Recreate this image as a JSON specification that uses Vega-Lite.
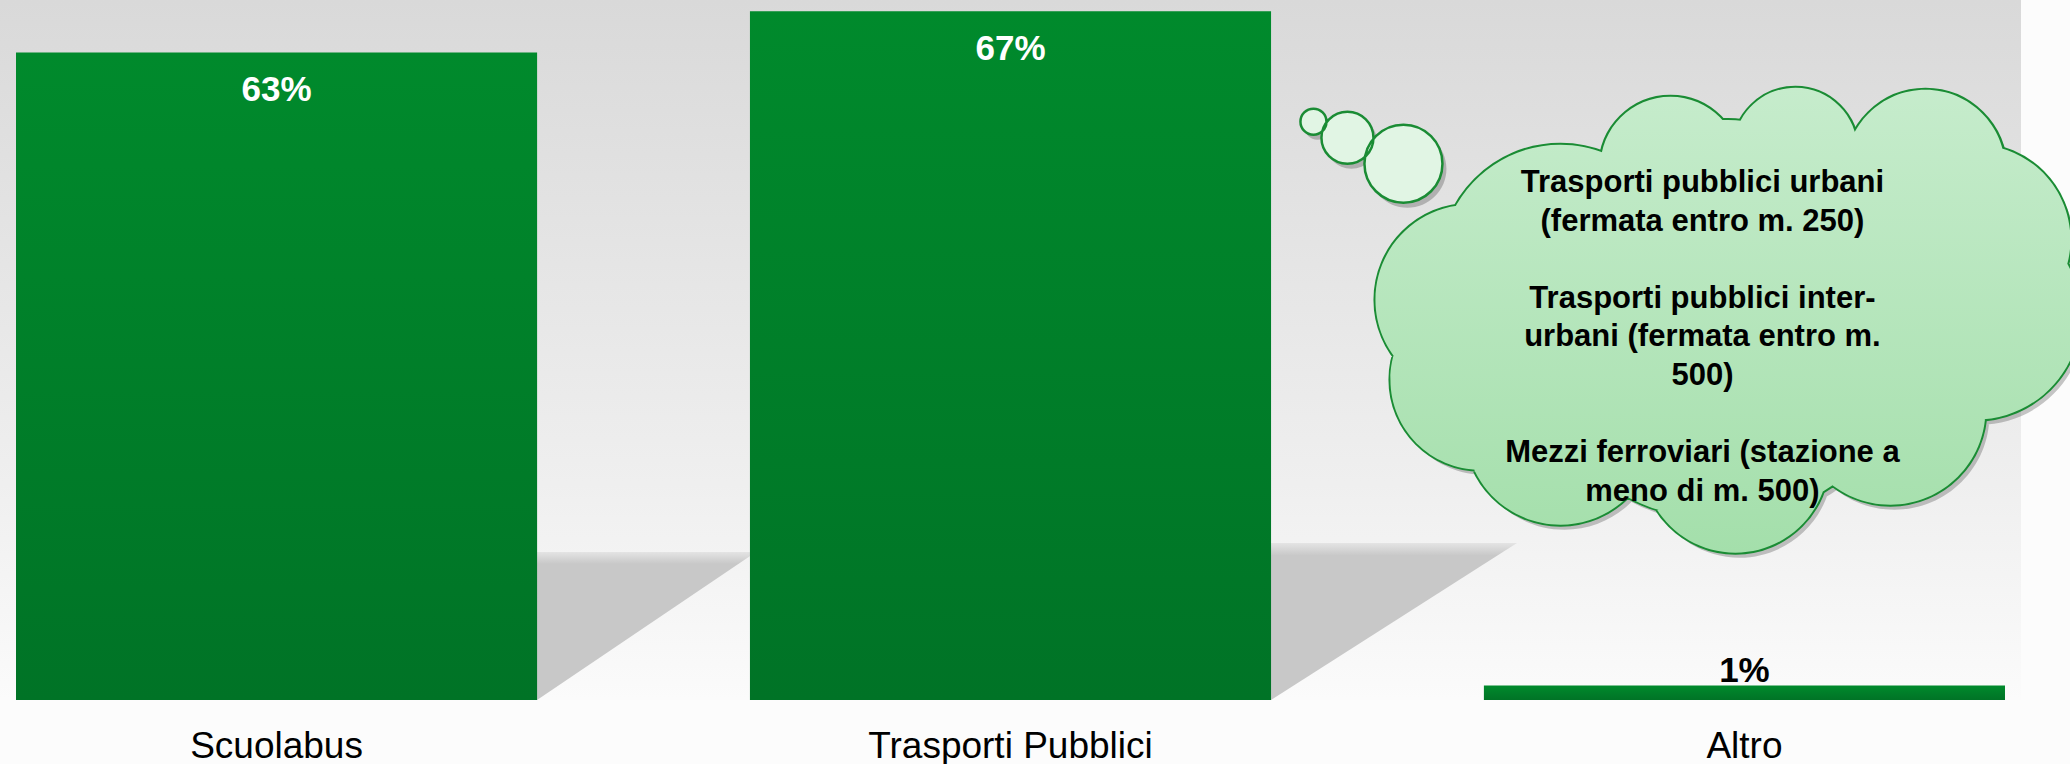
{
  "$schema": "https://vega.github.io/schema/vega-lite/v6.json",
  "width": 2021,
  "height": 700,
  "autosize": "none",
  "padding": {"left": 0, "top": 0, "right": 49, "bottom": 64},
  "background": "#fcfcfc",
  "config": {
    "font": "Liberation Sans",
    "axisX": {"title": null, "domain": false, "ticks": false, "tickSize": 0, "grid": false,
        "labelFontSize": 37, "labelFont": "Liberation Sans", "labelColor": "#000000",
        "labelAngle": 0, "labelBaseline": "alphabetic", "labelPadding": 57, "labelLimit": 0},
    "text": {"align": "center", "baseline": "alphabetic", "fontSize": 31, "fontWeight": "bold", "lineHeight": 38.5, "color": "#000000"},
    "view": {
      "stroke": null,
      "fill": {"gradient": "linear", "x1": 0, "y1": 0, "x2": 0, "y2": 1,
        "stops": [{"offset": 0, "color": "#d9d9d9"}, {"offset": 0.69, "color": "#efefef"}, {"offset": 1, "color": "#fbfbfb"}]}
    }
  },
  "data": {"values": [
    {"categoria": "Scuolabus", "quota": 0.63},
    {"categoria": "Trasporti Pubblici", "quota": 0.67},
    {"categoria": "Altro", "quota": 0.014}
  ]},
  "layer": [
    {
      "data": {"values": [{"nota": "ombra"}]},
      "mark": {"type": "point", "shape": "M0,0L0,-0.592L0.876,-0.592Z", "size": 250000, "filled": true, "opacity": 1, "strokeWidth": 0, "xOffset": 260.5,
        "fill": {"gradient": "linear", "x1": 0, "y1": 0, "x2": 0, "y2": 1,
          "stops": [{"offset": 0, "color": "#e4e4e4"}, {"offset": 0.08, "color": "#c8c8c8"}, {"offset": 1, "color": "#c8c8c8"}]}},
      "encoding": {"x": {"datum": "Scuolabus", "type": "nominal", "title": null}, "y": {"datum": 0, "type": "quantitative", "axis": null}}
    },
    {
      "data": {"values": [{"nota": "ombra"}]},
      "mark": {"type": "point", "shape": "M0,0L0,-0.628L0.984,-0.628Z", "size": 250000, "filled": true, "opacity": 1, "strokeWidth": 0, "xOffset": 260.5,
        "fill": {"gradient": "linear", "x1": 0, "y1": 0, "x2": 0, "y2": 1,
          "stops": [{"offset": 0, "color": "#e4e4e4"}, {"offset": 0.08, "color": "#c8c8c8"}, {"offset": 1, "color": "#c8c8c8"}]}},
      "encoding": {"x": {"datum": "Trasporti Pubblici", "type": "nominal", "title": null}, "y": {"datum": 0, "type": "quantitative", "axis": null}}
    },
    {
      "mark": {"type": "bar",
        "color": {"gradient": "linear", "x1": 0, "y1": 0, "x2": 0, "y2": 1,
          "stops": [{"offset": 0, "color": "#008a2c"}, {"offset": 1, "color": "#007326"}]}},
      "encoding": {
        "x": {"field": "categoria", "type": "nominal", "sort": null, "title": null,
          "scale": {"paddingInner": 0.29, "paddingOuter": 0.0218}},
        "y": {"field": "quota", "type": "quantitative",
          "scale": {"domain": [0, 0.681], "nice": false, "zero": true}, "axis": null}
      }
    },
    {
      "transform": [{"filter": "datum.quota > 0.1"}],
      "mark": {"type": "text", "dy": 49, "fontSize": 35, "color": "#ffffff"},
      "encoding": {
        "x": {"field": "categoria", "type": "nominal", "sort": null, "title": null},
        "y": {"field": "quota", "type": "quantitative", "axis": null},
        "text": {"field": "quota", "type": "quantitative", "format": ".0%"}
      }
    },
    {
      "transform": [{"filter": "datum.quota <= 0.1"}],
      "mark": {"type": "text", "dy": -4, "fontSize": 35, "color": "#000000"},
      "encoding": {
        "x": {"field": "categoria", "type": "nominal", "sort": null, "title": null},
        "y": {"field": "quota", "type": "quantitative", "axis": null},
        "text": {"field": "quota", "type": "quantitative", "format": ".0%"}
      }
    },
    {
      "data": {"values": [{"nota": "ombra nuvola"}]},
      "mark": {"type": "point", "size": 640000, "filled": true, "opacity": 0.22, "fill": "#000000", "strokeWidth": 0, "xOffset": -20, "yOffset": 5,
        "shape": "M-1.05,-0.495A0.0325,0.0325,0,1,0,-0.985,-0.495A0.0325,0.0325,0,1,0,-1.05,-0.495ZM-0.9975,-0.455A0.065,0.065,0,1,0,-0.8675,-0.455A0.065,0.065,0,1,0,-0.9975,-0.455ZM-0.89,-0.39A0.0975,0.0975,0,1,0,-0.695,-0.39A0.0975,0.0975,0,1,0,-0.89,-0.39ZM-0.7,-0.1375A0.3,0.3,0,1,0,-0.1,-0.1375A0.3,0.3,0,1,0,-0.7,-0.1375ZM-0.3,-0.3825A0.175,0.175,0,1,0,0.05,-0.3825A0.175,0.175,0,1,0,-0.3,-0.3825ZM0.0325,-0.425A0.155,0.155,0,1,0,0.3425,-0.425A0.155,0.155,0,1,0,0.0325,-0.425ZM0.3125,-0.375A0.2,0.2,0,1,0,0.7125,-0.375A0.2,0.2,0,1,0,0.3125,-0.375ZM0.4,-0.2A0.2375,0.2375,0,1,0,0.875,-0.2A0.2375,0.2375,0,1,0,0.4,-0.2ZM0.375,-0.0125A0.2625,0.2625,0,1,0,0.9,-0.0125A0.2625,0.2625,0,1,0,0.375,-0.0125ZM0.1875,0.225A0.2375,0.2375,0,1,0,0.6625,0.225A0.2375,0.2375,0,1,0,0.1875,0.225ZM-0.195,0.35A0.2325,0.2325,0,1,0,0.27,0.35A0.2325,0.2325,0,1,0,-0.195,0.35ZM-0.6375,0.275A0.2375,0.2375,0,1,0,-0.1625,0.275A0.2375,0.2375,0,1,0,-0.6375,0.275ZM-0.825,0.15A0.225,0.225,0,1,0,-0.375,0.15A0.225,0.225,0,1,0,-0.825,0.15ZM-0.8625,-0.05A0.2375,0.2375,0,1,0,-0.3875,-0.05A0.2375,0.2375,0,1,0,-0.8625,-0.05ZM-0.5,0A0.5,0.5,0,1,0,0.5,0A0.5,0.5,0,1,0,-0.5,0Z"},
      "encoding": {"x": {"datum": "Altro", "type": "nominal", "title": null}, "y": {"datum": 0.37, "type": "quantitative", "axis": null}}
    },
    {
      "data": {"values": [{"nota": "nuvola"}]},
      "mark": {"type": "point", "size": 640000, "filled": true, "opacity": 1, "fill": "#e1f5e4", "stroke": "#1a8c34", "strokeWidth": 2.5, "xOffset": -24,
        "shape": "M-1.05,-0.495A0.0325,0.0325,0,1,0,-0.985,-0.495A0.0325,0.0325,0,1,0,-1.05,-0.495ZM-0.9975,-0.455A0.065,0.065,0,1,0,-0.8675,-0.455A0.065,0.065,0,1,0,-0.9975,-0.455ZM-0.89,-0.39A0.0975,0.0975,0,1,0,-0.695,-0.39A0.0975,0.0975,0,1,0,-0.89,-0.39Z"},
      "encoding": {"x": {"datum": "Altro", "type": "nominal", "title": null}, "y": {"datum": 0.37, "type": "quantitative", "axis": null}}
    },
    {
      "data": {"values": [{"nota": "nuvola"}]},
      "mark": {"type": "point", "size": 640000, "filled": true, "opacity": 1, "fill": "#1a8c34", "stroke": "#1a8c34", "strokeWidth": 4, "xOffset": -24,
        "shape": "M-0.7,-0.1375A0.3,0.3,0,1,0,-0.1,-0.1375A0.3,0.3,0,1,0,-0.7,-0.1375ZM-0.3,-0.3825A0.175,0.175,0,1,0,0.05,-0.3825A0.175,0.175,0,1,0,-0.3,-0.3825ZM0.0325,-0.425A0.155,0.155,0,1,0,0.3425,-0.425A0.155,0.155,0,1,0,0.0325,-0.425ZM0.3125,-0.375A0.2,0.2,0,1,0,0.7125,-0.375A0.2,0.2,0,1,0,0.3125,-0.375ZM0.4,-0.2A0.2375,0.2375,0,1,0,0.875,-0.2A0.2375,0.2375,0,1,0,0.4,-0.2ZM0.375,-0.0125A0.2625,0.2625,0,1,0,0.9,-0.0125A0.2625,0.2625,0,1,0,0.375,-0.0125ZM0.1875,0.225A0.2375,0.2375,0,1,0,0.6625,0.225A0.2375,0.2375,0,1,0,0.1875,0.225ZM-0.195,0.35A0.2325,0.2325,0,1,0,0.27,0.35A0.2325,0.2325,0,1,0,-0.195,0.35ZM-0.6375,0.275A0.2375,0.2375,0,1,0,-0.1625,0.275A0.2375,0.2375,0,1,0,-0.6375,0.275ZM-0.825,0.15A0.225,0.225,0,1,0,-0.375,0.15A0.225,0.225,0,1,0,-0.825,0.15ZM-0.8625,-0.05A0.2375,0.2375,0,1,0,-0.3875,-0.05A0.2375,0.2375,0,1,0,-0.8625,-0.05ZM-0.5,0A0.5,0.5,0,1,0,0.5,0A0.5,0.5,0,1,0,-0.5,0Z"},
      "encoding": {"x": {"datum": "Altro", "type": "nominal", "title": null}, "y": {"datum": 0.37, "type": "quantitative", "axis": null}}
    },
    {
      "data": {"values": [{"nota": "nuvola"}]},
      "mark": {"type": "point", "size": 640000, "filled": true, "opacity": 1, "strokeWidth": 0, "xOffset": -24,
        "fill": {"gradient": "linear", "x1": 0, "y1": 0, "x2": 0, "y2": 1,
          "stops": [{"offset": 0, "color": "#c6eccc"}, {"offset": 1, "color": "#a4dfab"}]},
        "shape": "M-0.7,-0.1375A0.3,0.3,0,1,0,-0.1,-0.1375A0.3,0.3,0,1,0,-0.7,-0.1375ZM-0.3,-0.3825A0.175,0.175,0,1,0,0.05,-0.3825A0.175,0.175,0,1,0,-0.3,-0.3825ZM0.0325,-0.425A0.155,0.155,0,1,0,0.3425,-0.425A0.155,0.155,0,1,0,0.0325,-0.425ZM0.3125,-0.375A0.2,0.2,0,1,0,0.7125,-0.375A0.2,0.2,0,1,0,0.3125,-0.375ZM0.4,-0.2A0.2375,0.2375,0,1,0,0.875,-0.2A0.2375,0.2375,0,1,0,0.4,-0.2ZM0.375,-0.0125A0.2625,0.2625,0,1,0,0.9,-0.0125A0.2625,0.2625,0,1,0,0.375,-0.0125ZM0.1875,0.225A0.2375,0.2375,0,1,0,0.6625,0.225A0.2375,0.2375,0,1,0,0.1875,0.225ZM-0.195,0.35A0.2325,0.2325,0,1,0,0.27,0.35A0.2325,0.2325,0,1,0,-0.195,0.35ZM-0.6375,0.275A0.2375,0.2375,0,1,0,-0.1625,0.275A0.2375,0.2375,0,1,0,-0.6375,0.275ZM-0.825,0.15A0.225,0.225,0,1,0,-0.375,0.15A0.225,0.225,0,1,0,-0.825,0.15ZM-0.8625,-0.05A0.2375,0.2375,0,1,0,-0.3875,-0.05A0.2375,0.2375,0,1,0,-0.8625,-0.05ZM-0.5,0A0.5,0.5,0,1,0,0.5,0A0.5,0.5,0,1,0,-0.5,0Z"},
      "encoding": {"x": {"datum": "Altro", "type": "nominal", "title": null}, "y": {"datum": 0.37, "type": "quantitative", "axis": null}}
    },
    {
      "data": {"values": [{"nota": "testo"}]},
      "mark": {"type": "text", "xOffset": -42, "text": ["Trasporti pubblici urbani", "(fermata entro m. 250)"]},
      "encoding": {"x": {"datum": "Altro", "type": "nominal", "title": null}, "y": {"datum": 0.4942, "type": "quantitative", "axis": null}}
    },
    {
      "data": {"values": [{"nota": "testo"}]},
      "mark": {"type": "text", "xOffset": -42, "text": ["Trasporti pubblici inter-", "urbani (fermata entro m.", "500)"]},
      "encoding": {"x": {"datum": "Altro", "type": "nominal", "title": null}, "y": {"datum": 0.3814, "type": "quantitative", "axis": null}}
    },
    {
      "data": {"values": [{"nota": "testo"}]},
      "mark": {"type": "text", "xOffset": -42, "text": ["Mezzi ferroviari (stazione a", "meno di m. 500)"]},
      "encoding": {"x": {"datum": "Altro", "type": "nominal", "title": null}, "y": {"datum": 0.2315, "type": "quantitative", "axis": null}}
    }
  ]
}
